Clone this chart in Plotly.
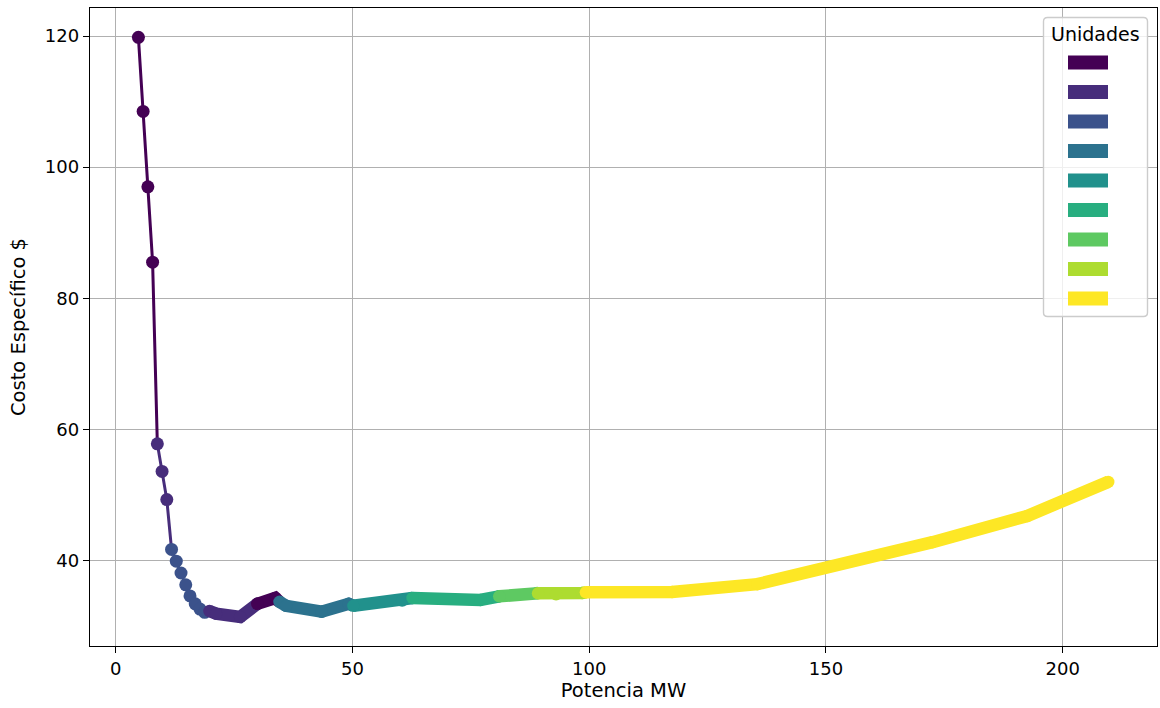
import plotly.graph_objects as go

# Viridis sampled at nine evenly spaced points: one colour per unit combination
VIRIDIS = ["#440154", "#472d7b", "#3b528b", "#2c728e", "#21918c",
           "#28ae80", "#5ec962", "#addc30", "#fde725"]

# Power (MW) and specific cost ($) for each dispatch stretch
pot_1 = [4.8, 5.8, 6.8, 7.8]
cost_1 = [119.8, 108.5, 97.0, 85.5]

pot_2 = [8.8, 9.8, 10.8]
cost_2 = [57.8, 53.6, 49.3]

pot_3 = [11.8, 12.8, 13.8, 14.8, 15.7, 16.8, 17.8, 18.8]
cost_3 = [41.7, 39.9, 38.1, 36.3, 34.6, 33.4, 32.6, 32.1]

pot_4 = [19.8, 21.2, 26.3, 29.9]
cost_4 = [32.3, 31.9, 31.4, 33.4]

pot_5 = [29.9, 33.7]
cost_5 = [33.4, 34.3]

pot_6 = [34.6, 36.0, 43.5, 49.2]
cost_6 = [33.7, 33.1, 32.2, 33.4]

pot_7 = [50.2, 60.5, 62.5]
cost_7 = [33.1, 33.9, 34.3]

pot_8 = [62.7, 77.0, 81.0]
cost_8 = [34.3, 34.0, 34.55]

pot_9 = [81.0, 89.0]
cost_9 = [34.55, 35.05]

pot_10 = [89.2, 93.0, 98.5]
cost_10 = [35.0, 34.85, 35.05]

pot_11 = [99.3, 117.5, 135.5, 172.5, 192.5, 209.6]
cost_11 = [35.15, 35.2, 36.4, 42.8, 46.8, 52.0]

# (power, cost, colour index, drawn as thick band?)
stretches = [
    (pot_1, cost_1, 0, False),
    (pot_2, cost_2, 1, False),
    (pot_3, cost_3, 2, False),
    (pot_4, cost_4, 1, True),
    (pot_5, cost_5, 0, True),
    (pot_6, cost_6, 3, True),
    (pot_7, cost_7, 4, True),
    (pot_8, cost_8, 5, True),
    (pot_9, cost_9, 6, True),
    (pot_10, cost_10, 7, True),
    (pot_11, cost_11, 8, True),
]

x_ticks = [0, 50, 100, 150, 200]
y_ticks = [40, 60, 80, 100, 120]
legend_title = "Unidades"

FONT = "DejaVu Sans, Verdana, sans-serif"
TICK_FS = 18
LABEL_FS = 19.5
W, H = 1160, 708
L, R, T, B = 90, 3, 8, 62

fig = go.Figure()

for i, (px, cy, ci, thick) in enumerate(stretches):
    col = VIRIDIS[ci]
    # each stretch's line runs on to the first point of the next one
    lx, ly = list(px), list(cy)
    if i + 1 < len(stretches):
        lx.append(stretches[i + 1][0][0])
        ly.append(stretches[i + 1][1][0])
    fig.add_trace(go.Scatter(
        x=lx, y=ly, mode="lines",
        line=dict(color=col, width=12.5 if thick else 3),
        showlegend=False, hoverinfo="skip"))
    fig.add_trace(go.Scatter(
        x=px, y=cy, mode="markers",
        marker=dict(color=col, size=12.5 if thick else 13, line=dict(width=0)),
        showlegend=False))

axis_common = dict(
    showgrid=True, gridcolor="#b0b0b0", gridwidth=1.4,
    showline=True, linecolor="black", linewidth=1.4, mirror=True,
    ticks="outside", ticklen=6, tickwidth=1.4, tickcolor="black",
    zeroline=False, automargin=False,
    tickfont=dict(family=FONT, size=TICK_FS, color="black"),
)

fig.update_xaxes(range=[-5.42, 219.9], tickvals=x_ticks,
                 title=dict(text="Potencia MW", standoff=4,
                            font=dict(family=FONT, size=LABEL_FS, color="black")),
                 **axis_common)
fig.update_yaxes(range=[26.97, 124.27], tickvals=y_ticks,
                 title=dict(text="Costo Específico $", standoff=14,
                            font=dict(family=FONT, size=LABEL_FS, color="black")),
                 **axis_common)

# Legend panel: colour patches only, titled "Unidades"
pw, ph = W - L - R, H - T - B


def px2paper(x, y):
    return (x - L) / pw, (H - B - y) / ph


shapes = []
x0, y0 = px2paper(1043.5, 17.5)
x1, y1 = px2paper(1147.5, 316.5)
rx, ry = 4 / pw, 4 / ph
frame = (f"M{x0 + rx},{y0} L{x1 - rx},{y0} Q{x1},{y0} {x1},{y0 - ry} "
         f"L{x1},{y1 + ry} Q{x1},{y1} {x1 - rx},{y1} L{x0 + rx},{y1} "
         f"Q{x0},{y1} {x0},{y1 + ry} L{x0},{y0 - ry} Q{x0},{y0} {x0 + rx},{y0} Z")
shapes.append(dict(type="path", xref="paper", yref="paper", path=frame,
                   fillcolor="rgba(255,255,255,0.8)",
                   line=dict(color="#cccccc", width=1.4), layer="above"))
for k, col in enumerate(VIRIDIS):
    cy = 62.5 + k * 29.5
    a0, b0 = px2paper(1068, cy - 7)
    a1, b1 = px2paper(1108, cy + 7)
    shapes.append(dict(type="rect", xref="paper", yref="paper",
                       x0=a0, x1=a1, y0=b1, y1=b0, fillcolor=col,
                       line=dict(width=0), layer="above"))

tx, ty = px2paper(1095.5, 33.5)
fig.add_annotation(x=tx, y=ty, xref="paper", yref="paper", text=legend_title,
                   showarrow=False, xanchor="center", yanchor="middle",
                   font=dict(family=FONT, size=19, color="black"))

fig.update_layout(
    width=W, height=H, autosize=False,
    margin=dict(l=L, r=R, t=T, b=B),
    paper_bgcolor="white", plot_bgcolor="white",
    shapes=shapes, showlegend=False,
    font=dict(family=FONT, size=TICK_FS, color="black"),
)

fig.write_html("out.html")
